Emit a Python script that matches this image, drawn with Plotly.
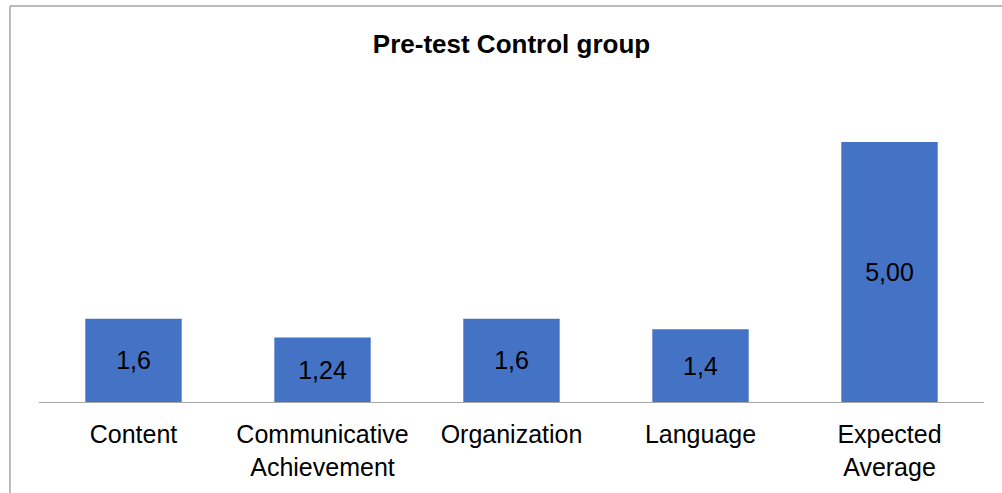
import plotly.graph_objects as go

categories = ["Content", "Communicative<br>Achievement", "Organization", "Language", "Expected<br>Average"]
values = [1.6, 1.24, 1.6, 1.4, 5.0]
value_labels = ["1,6", "1,24", "1,6", "1,4", "5,00"]
title_text = "Pre-test Control group"

W, H = 1002, 493
ml, mr, mt, mb = 39, 18, 90, 91

fig = go.Figure(go.Bar(
    x=categories, y=values, text=value_labels,
    textposition="inside", insidetextanchor="middle",
    textfont=dict(family="Liberation Sans, Arial", size=25, color="black"),
    marker=dict(color="#4472C4", line=dict(width=0)),
    width=0.51, hoverinfo="skip",
))

pw = W - ml - mr
ph = H - mt - mb
bx = (10 - ml) / pw
ty = 1 + (mt - 6) / ph
by = -(mb + 10) / ph
rx = 1 + (mr + 10) / pw

fig.update_layout(
    width=W, height=H,
    margin=dict(l=ml, r=mr, t=mt, b=mb, autoexpand=False),
    paper_bgcolor="white", plot_bgcolor="white",
    showlegend=False,
    title=dict(text="<b>" + title_text + "</b>", x=(511.5) / W, xanchor="center",
               y=1 - 44 / H, yanchor="middle",
               font=dict(family="Liberation Sans, Arial", size=26, color="black")),
    xaxis=dict(showgrid=False, showline=True, linecolor="#a6a6a6", linewidth=1,
               ticks="", ticklabelstandoff=10,
               tickfont=dict(family="Liberation Sans, Arial", size=25, color="black"),
               fixedrange=True),
    yaxis=dict(range=[0, 6], visible=False, showgrid=False, zeroline=False, fixedrange=True),
    shapes=[
        dict(type="line", xref="paper", yref="paper", x0=bx, x1=bx, y0=by, y1=ty,
             line=dict(color="#a6a6a6", width=1.5)),
        dict(type="line", xref="paper", yref="paper", x0=bx, x1=rx, y0=ty, y1=ty,
             line=dict(color="#a6a6a6", width=1.5)),
    ],
    font=dict(family="Liberation Sans, Arial"),
)

fig.write_html("out.html", config={"displayModeBar": False},
               post_script="document.body.style.margin='0';document.body.style.overflow='hidden';")
